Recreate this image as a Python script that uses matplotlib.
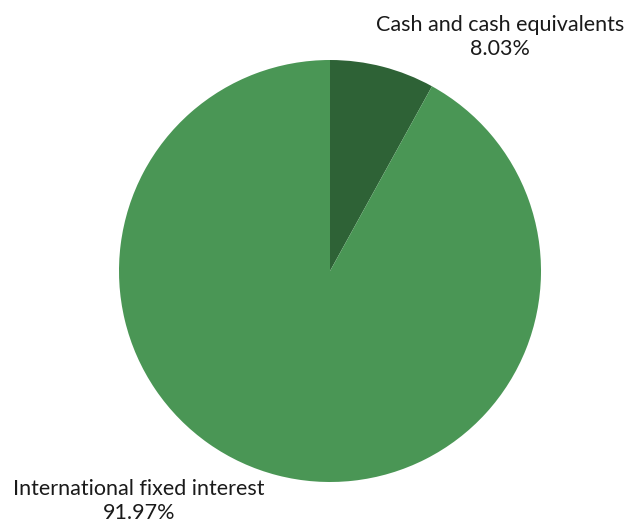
import matplotlib
matplotlib.use("Agg")
import matplotlib.pyplot as plt

labels = ["Cash and cash equivalents", "International fixed interest"]
values = [8.03, 91.97]
colors = ["#2E6236", "#4A9655"]

W, H = 629, 524
cx, cy, r = 330, 271, 211   # pie centre and radius in pixels

plt.rcParams['font.family'] = ['Lato', 'DejaVu Sans']

fig = plt.figure(figsize=(W / 100, H / 100), dpi=100)
ax = fig.add_axes([0, 0, 1, 1])
ax.pie(values, colors=colors, startangle=90, counterclock=False,
       wedgeprops=dict(linewidth=0))
ax.set_xlim(-cx / r, (W - cx) / r)
ax.set_ylim((cy - H) / r, cy / r)
ax.set_aspect('auto')
ax.axis('off')

def px(x, y):
    return (x - cx) / r, (cy - y) / r

label_pos = [(500, 37), (139, 501)]
for name, v, (lx, ly) in zip(labels, values, label_pos):
    ax.text(*px(lx, ly), f"{name}\n{v:.2f}%", ha='center', va='center',
            fontsize=15.5, color='#1a1a1a', linespacing=1.2)

fig.savefig("out.png", dpi=100)
